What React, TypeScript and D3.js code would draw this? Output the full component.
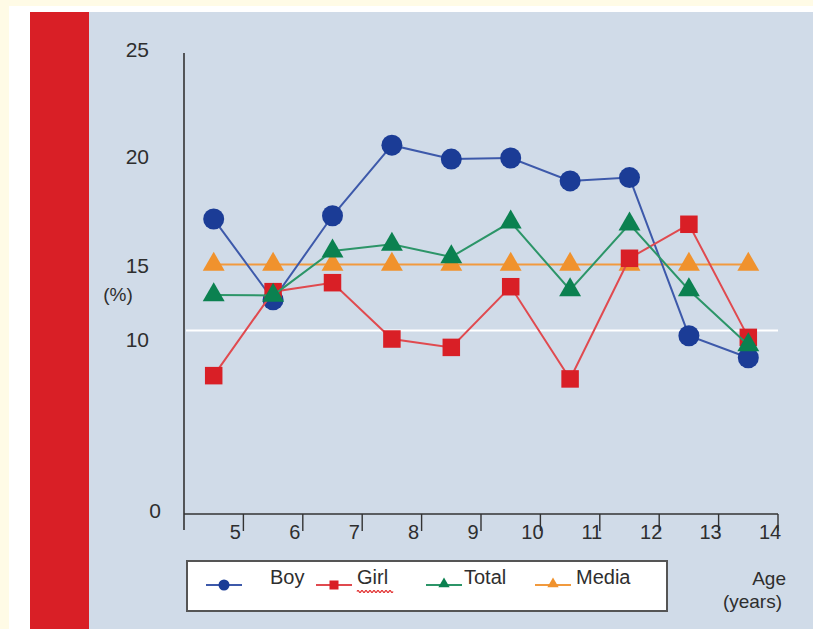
import React from "react";
import * as d3 from "d3";

const ages = [4.5, 5.5, 6.5, 7.5, 8.5, 9.5, 10.5, 11.5, 12.5, 13.5];
const boy = [17.2, 12.8, 17.35, 20.6, 19.95, 20.0, 18.95, 19.1, 10.4, 9.07];
const girl = [8.03, 13.35, 13.95, 10.18, 9.67, 13.68, 7.84, 15.4, 16.96, 10.29];
const total = [13.13, 13.1, 15.73, 16.04, 15.46, 17.06, 13.46, 16.97, 13.46, 9.81];
const media = [15.12, 15.12, 15.12, 15.12, 15.12, 15.12, 15.12, 15.12, 15.12, 15.12];
const refLine = 10.75;
const xTicks = [5, 6, 7, 8, 9, 10, 11, 12, 13, 14];
const yTicks = [0, 10, 15, 20, 25];
const seriesNames = ["Boy", "Girl", "Total", "Media"];

const FONT = "'Liberation Sans', Arial, sans-serif";
const TXT = "#2e2e2e";

export default function App() {
  const x = d3.scaleLinear().domain([4, 14]).range([184, 778]);
  // the original figure's vertical axis is not evenly spaced
  const y = d3.scaleLinear().domain([0, 10, 15, 20, 25]).range([514, 341.7, 267, 158, 51]);

  const line = d3
    .line<number>()
    .x((_, i) => x(ages[i]))
    .y((d) => y(d));

  const series = [
    { name: seriesNames[0], data: boy, fill: "#1b3c96", stroke: "#3d59aa", shape: "circle" },
    { name: seriesNames[1], data: girl, fill: "#d91f26", stroke: "#e04a4f", shape: "square" },
    { name: seriesNames[2], data: total, fill: "#0b8150", stroke: "#2c9568", shape: "triangle" },
    { name: seriesNames[3], data: media, fill: "#f0922d", stroke: "#f19a3e", shape: "triangle" },
  ];
  const drawOrder = [3, 0, 1, 2];

  const marker = (shape: string, cx: number, cy: number, fill: string, big: boolean, key: string) => {
    if (shape === "circle") {
      return <circle key={key} cx={cx} cy={cy} r={big ? 10.5 : 5.5} fill={fill} />;
    }
    if (shape === "square") {
      const s = big ? 17.5 : 9;
      return <rect key={key} x={cx - s / 2} y={cy - s / 2} width={s} height={s} fill={fill} />;
    }
    const p = d3.symbol(d3.symbolTriangle, big ? 208 : 55)();
    return <path key={key} d={p || ""} transform={`translate(${cx},${cy})`} fill={fill} />;
  };

  const legendItems = [
    { x0: 206, x1: 242, tx: 270 },
    { x0: 316, x1: 352, tx: 357 },
    { x0: 426, x1: 462, tx: 464 },
    { x0: 535, x1: 571, tx: 576 },
  ];
  const ly = 585;

  // squiggle under "Girl"
  let squiggle = "M357,591.5";
  for (let px = 357; px < 393; px += 4) {
    squiggle += ` Q${px + 1},${589.5} ${px + 2},${591.5} Q${px + 3},${593.5} ${px + 4},${591.5}`;
  }

  return (
    <svg
      width={813}
      height={629}
      style={{ position: "absolute", left: 0, top: 0, display: "block" }}
      fontFamily={FONT}
    >
      <rect x={0} y={0} width={813} height={629} fill="#fffbe6" />
      <rect x={9} y={6} width={804} height={623} fill="#ffffff" />
      <rect x={30} y={12} width={783} height={617} fill="#d0dbe8" />
      <rect x={30} y={12} width={59} height={617} fill="#d91f26" />

      {/* reference line */}
      <line x1={x(4) + 2} x2={x(14)} y1={y(refLine)} y2={y(refLine)} stroke="#ffffff" strokeWidth={2} />

      {/* axes */}
      <line x1={x(4)} x2={x(4)} y1={y(25) + 2} y2={y(0) + 16} stroke="#333" strokeWidth={1.6} />
      <line x1={x(4)} x2={x(14)} y1={y(0)} y2={y(0)} stroke="#333" strokeWidth={1.6} />
      {xTicks.map((t) => (
        <g key={t}>
          <line x1={x(t)} x2={x(t)} y1={y(0)} y2={y(0) + 17} stroke="#333" strokeWidth={1.4} />
          <text
            x={x(t) - 8}
            y={y(0) + 20}
            textAnchor="middle"
            fontSize={20}
            fill={TXT}
            dominantBaseline="middle"
          >
            {t}
          </text>
        </g>
      ))}
      {yTicks.map((t) => (
        <text
          key={t}
          x={t === 0 ? 161 : 149}
          y={y(t) + (t === 0 ? -2 : 0)}
          textAnchor="end"
          dominantBaseline="middle"
          fontSize={21}
          fill={TXT}
        >
          {t}
        </text>
      ))}
      <text x={118} y={296} textAnchor="middle" dominantBaseline="middle" fontSize={19} fill={TXT}>
        (%)
      </text>

      {/* series */}
      {drawOrder.map((si) => {
        const s = series[si];
        return (
          <g key={s.name}>
            <path d={line(s.data) || ""} fill="none" stroke={s.stroke} strokeWidth={2} />
            {s.data.map((v, i) => marker(s.shape, x(ages[i]), y(v), s.fill, true, `${s.name}${i}`))}
          </g>
        );
      })}

      {/* legend */}
      <rect x={187} y={561} width={480} height={50} fill="#ffffff" stroke="#555" strokeWidth={2} />
      {series.map((s, i) => {
        const it = legendItems[i];
        return (
          <g key={s.name}>
            <line x1={it.x0} x2={it.x1} y1={ly} y2={ly} stroke={s.stroke} strokeWidth={2} />
            {marker(s.shape, (it.x0 + it.x1) / 2, s.shape === "triangle" ? ly - 1 : ly, s.fill, false, `lg${i}`)}
            <text x={it.tx} y={579} dominantBaseline="middle" fontSize={20} fill={TXT}>
              {s.name}
            </text>
          </g>
        );
      })}
      <path d={squiggle} fill="none" stroke="#e02020" strokeWidth={1.2} />

      <text x={786} y={580} textAnchor="end" dominantBaseline="middle" fontSize={19} fill={TXT}>
        Age
      </text>
      <text x={782} y={603} textAnchor="end" dominantBaseline="middle" fontSize={19} fill={TXT}>
        (years)
      </text>
    </svg>
  );
}
